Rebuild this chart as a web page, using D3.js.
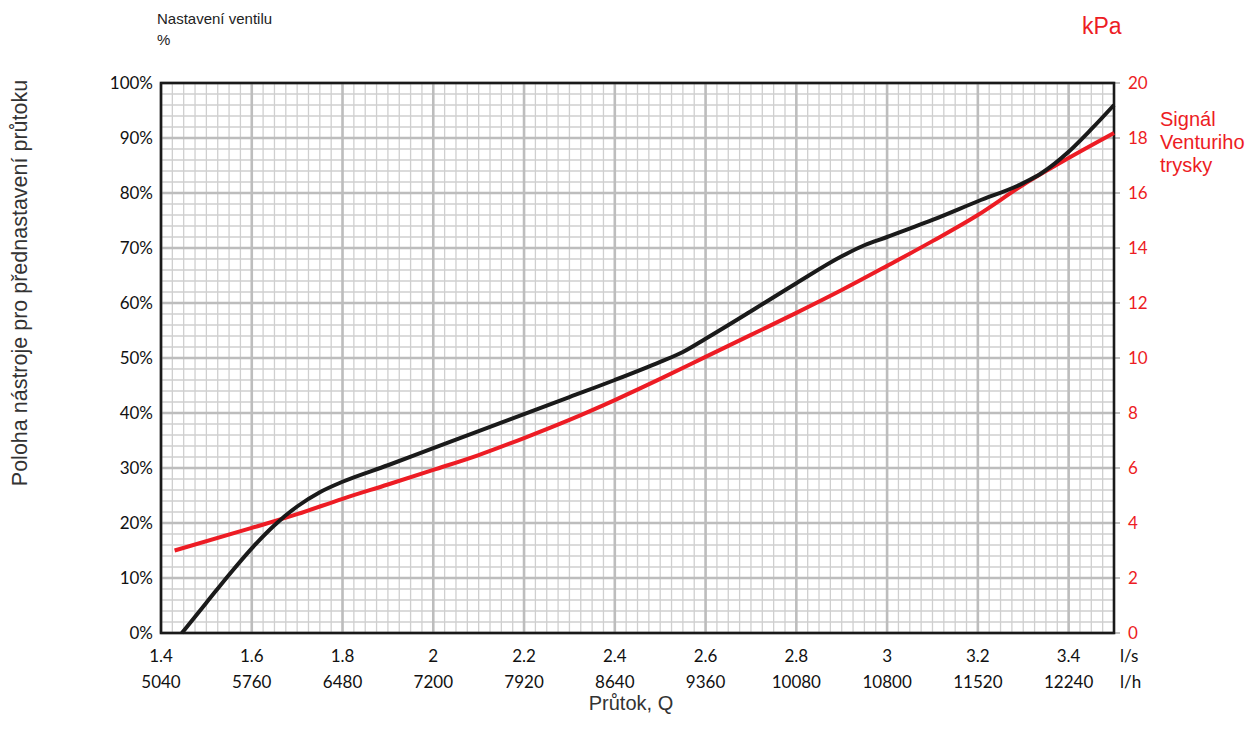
<!DOCTYPE html>
<html>
<head>
<meta charset="utf-8">
<script src="https://cdn.jsdelivr.net/npm/d3@7"></script>
<style>
    body { margin: 0; background: #fff; }
    .tick-lbl { font-family: Lato, "Open Sans", sans-serif; font-size: 17px; }
    .title-lbl { font-family: "Liberation Sans", Arial, sans-serif; }
</style>
</head>
<body>
<div id="chart"></div>
<script>
// flow in l/s (x), valve setting in % (black), venturi signal in kPa (red)
var valve_flow = [1.446, 1.5, 1.55, 1.6, 1.65, 1.7, 1.75, 1.8, 1.9, 2.0, 2.1, 2.2, 2.3, 2.4, 2.5, 2.55, 2.6, 2.7, 2.8, 2.9, 2.95, 3.0, 3.1, 3.2, 3.3, 3.34, 3.4, 3.45, 3.5];
var valve_pct = [0, 5.5, 10.6, 15.4, 19.6, 23.0, 25.6, 27.5, 30.5, 33.6, 36.7, 39.8, 42.9, 46, 49.3, 51.1, 53.5, 58.5, 63.6, 68.5, 70.5, 72, 75.1, 78.5, 81.8, 83.6, 87.5, 91.6, 96];

var signal_flow = [1.43, 1.6, 1.7, 1.8, 1.9, 2.0, 2.1, 2.2, 2.3, 2.4, 2.5, 2.6, 2.7, 2.8, 2.9, 3.0, 3.1, 3.2, 3.3, 3.4, 3.5];
var signal_kpa = [3.0, 3.82, 4.32, 4.88, 5.4, 5.93, 6.47, 7.09, 7.75, 8.47, 9.24, 10.04, 10.84, 11.64, 12.47, 13.35, 14.25, 15.2, 16.3, 17.27, 18.18];

var ls_ticks = [1.4, 1.6, 1.8, 2, 2.2, 2.4, 2.6, 2.8, 3, 3.2, 3.4];
var lh_ticks = ["5040", "5760", "6480", "7200", "7920", "8640", "9360", "10080", "10800", "11520", "12240"];
var pct_ticks = [0, 10, 20, 30, 40, 50, 60, 70, 80, 90, 100];
var kpa_ticks = [0, 2, 4, 6, 8, 10, 12, 14, 16, 18, 20];

var RED = "#ed1c24";

var margin = {left: 161, right: 136, top: 83, bottom: 106},
    width = 1250 - margin.left - margin.right,
    height = 739 - margin.top - margin.bottom;

var root = d3.select("#chart")
    .append("svg")
    .attr("width", 1250)
    .attr("height", 739);

var svg = root.append("g")
    .attr("transform", "translate(" + margin.left + "," + margin.top + ")");

var xScale = d3.scaleLinear().domain([1.4, 3.5]).range([0, width]),
    yLeft = d3.scaleLinear().domain([0, 100]).range([height, 0]),
    yRight = d3.scaleLinear().domain([0, 20]).range([height, 0]);

// ==== grid ====
var minorX = d3.range(0, 85).map(function (i) { return 1.4 + i * 0.025; }),
    minorY = d3.range(0, 51).map(function (i) { return i * 2; });

var grid = svg.append("g").attr("class", "grid");

grid.selectAll(".minor-x")
    .data(minorX)
    .enter().append("line")
    .attr("x1", function (d) { return xScale(d); })
    .attr("x2", function (d) { return xScale(d); })
    .attr("y1", 0).attr("y2", height)
    .attr("stroke", "#cfcfcf")
    .attr("stroke-width", 1.3);

grid.selectAll(".minor-y")
    .data(minorY)
    .enter().append("line")
    .attr("y1", function (d) { return yLeft(d); })
    .attr("y2", function (d) { return yLeft(d); })
    .attr("x1", 0).attr("x2", width)
    .attr("stroke", "#cfcfcf")
    .attr("stroke-width", 1.3);

grid.selectAll(".major-x")
    .data(ls_ticks)
    .enter().append("line")
    .attr("x1", function (d) { return xScale(d); })
    .attr("x2", function (d) { return xScale(d); })
    .attr("y1", 0).attr("y2", height)
    .attr("stroke", "#bdbdbd")
    .attr("stroke-width", 2.6);

grid.selectAll(".major-y")
    .data(pct_ticks)
    .enter().append("line")
    .attr("y1", function (d) { return yLeft(d); })
    .attr("y2", function (d) { return yLeft(d); })
    .attr("x1", 0).attr("x2", width)
    .attr("stroke", "#bdbdbd")
    .attr("stroke-width", 2.6);

// small grey ticks outside on the right
grid.selectAll(".rtick")
    .data(kpa_ticks)
    .enter().append("line")
    .attr("y1", function (d) { return yRight(d); })
    .attr("y2", function (d) { return yRight(d); })
    .attr("x1", width).attr("x2", width + 6)
    .attr("stroke", "#bdbdbd")
    .attr("stroke-width", 2);

// ==== frame ====
svg.append("rect")
    .attr("x", 0).attr("y", 0)
    .attr("width", width).attr("height", height)
    .attr("fill", "none")
    .attr("stroke", "#1a1a1a")
    .attr("stroke-width", 2.6);

// ==== lines ====
var valveLine = d3.line()
    .curve(d3.curveMonotoneX)
    .x(function (d) { return xScale(d[0]); })
    .y(function (d) { return yLeft(d[1]); });

var signalLine = d3.line()
    .curve(d3.curveMonotoneX)
    .x(function (d) { return xScale(d[0]); })
    .y(function (d) { return yRight(d[1]); });

svg.append("path")
    .datum(d3.zip(signal_flow, signal_kpa))
    .attr("d", signalLine)
    .attr("fill", "none")
    .attr("stroke", RED)
    .attr("stroke-width", 4);

svg.append("path")
    .datum(d3.zip(valve_flow, valve_pct))
    .attr("d", valveLine)
    .attr("fill", "none")
    .attr("stroke", "#1a1a1a")
    .attr("stroke-width", 4);

// ==== tick labels ====
svg.selectAll(".pct-lbl")
    .data(pct_ticks)
    .enter().append("text")
    .attr("class", "tick-lbl")
    .attr("x", -8)
    .attr("y", function (d) { return yLeft(d); })
    .attr("dy", "0.36em")
    .attr("text-anchor", "end")
    .attr("fill", "#111")
    .text(function (d) { return d + "%"; });

svg.selectAll(".kpa-lbl")
    .data(kpa_ticks)
    .enter().append("text")
    .attr("class", "tick-lbl")
    .attr("x", width + 14)
    .attr("y", function (d) { return yRight(d); })
    .attr("dy", "0.36em")
    .attr("fill", RED)
    .text(function (d) { return d; });

svg.selectAll(".ls-lbl")
    .data(ls_ticks)
    .enter().append("text")
    .attr("class", "tick-lbl")
    .attr("x", function (d) { return xScale(d); })
    .attr("y", height + 29)
    .attr("text-anchor", "middle")
    .attr("fill", "#111")
    .text(function (d) { return d; });

svg.selectAll(".lh-lbl")
    .data(lh_ticks)
    .enter().append("text")
    .attr("class", "tick-lbl")
    .attr("x", function (d, i) { return xScale(ls_ticks[i]); })
    .attr("y", height + 55)
    .attr("text-anchor", "middle")
    .attr("fill", "#111")
    .text(function (d) { return d; });

svg.append("text")
    .attr("class", "tick-lbl")
    .attr("x", width + 6)
    .attr("y", height + 29)
    .attr("fill", "#111")
    .text("l/s");

svg.append("text")
    .attr("class", "tick-lbl")
    .attr("x", width + 6)
    .attr("y", height + 55)
    .attr("fill", "#111")
    .text("l/h");

// ==== titles ====
root.append("text")
    .attr("class", "title-lbl")
    .attr("x", 157).attr("y", 24)
    .attr("font-size", 15)
    .attr("fill", "#222")
    .text("Nastavení ventilu");

root.append("text")
    .attr("class", "title-lbl")
    .attr("x", 157).attr("y", 45)
    .attr("font-size", 15)
    .attr("fill", "#222")
    .text("%");

root.append("text")
    .attr("class", "title-lbl")
    .attr("x", 1082).attr("y", 34)
    .attr("font-size", 23)
    .attr("fill", RED)
    .text("kPa");

["Signál", "Venturiho", "trysky"].forEach(function (t, i) {
    root.append("text")
        .attr("class", "title-lbl")
        .attr("x", 1160).attr("y", 126 + i * 23)
        .attr("font-size", 20)
        .attr("fill", RED)
        .text(t);
});

root.append("text")
    .attr("class", "title-lbl")
    .attr("x", 631).attr("y", 710)
    .attr("font-size", 20)
    .attr("text-anchor", "middle")
    .attr("fill", "#333")
    .text("Průtok, Q");

root.append("text")
    .attr("class", "title-lbl")
    .attr("transform", "translate(27,283) rotate(-90)")
    .attr("font-size", 21.5)
    .attr("text-anchor", "middle")
    .attr("fill", "#333")
    .text("Poloha nástroje pro přednastavení průtoku");
</script>
</body>
</html>
